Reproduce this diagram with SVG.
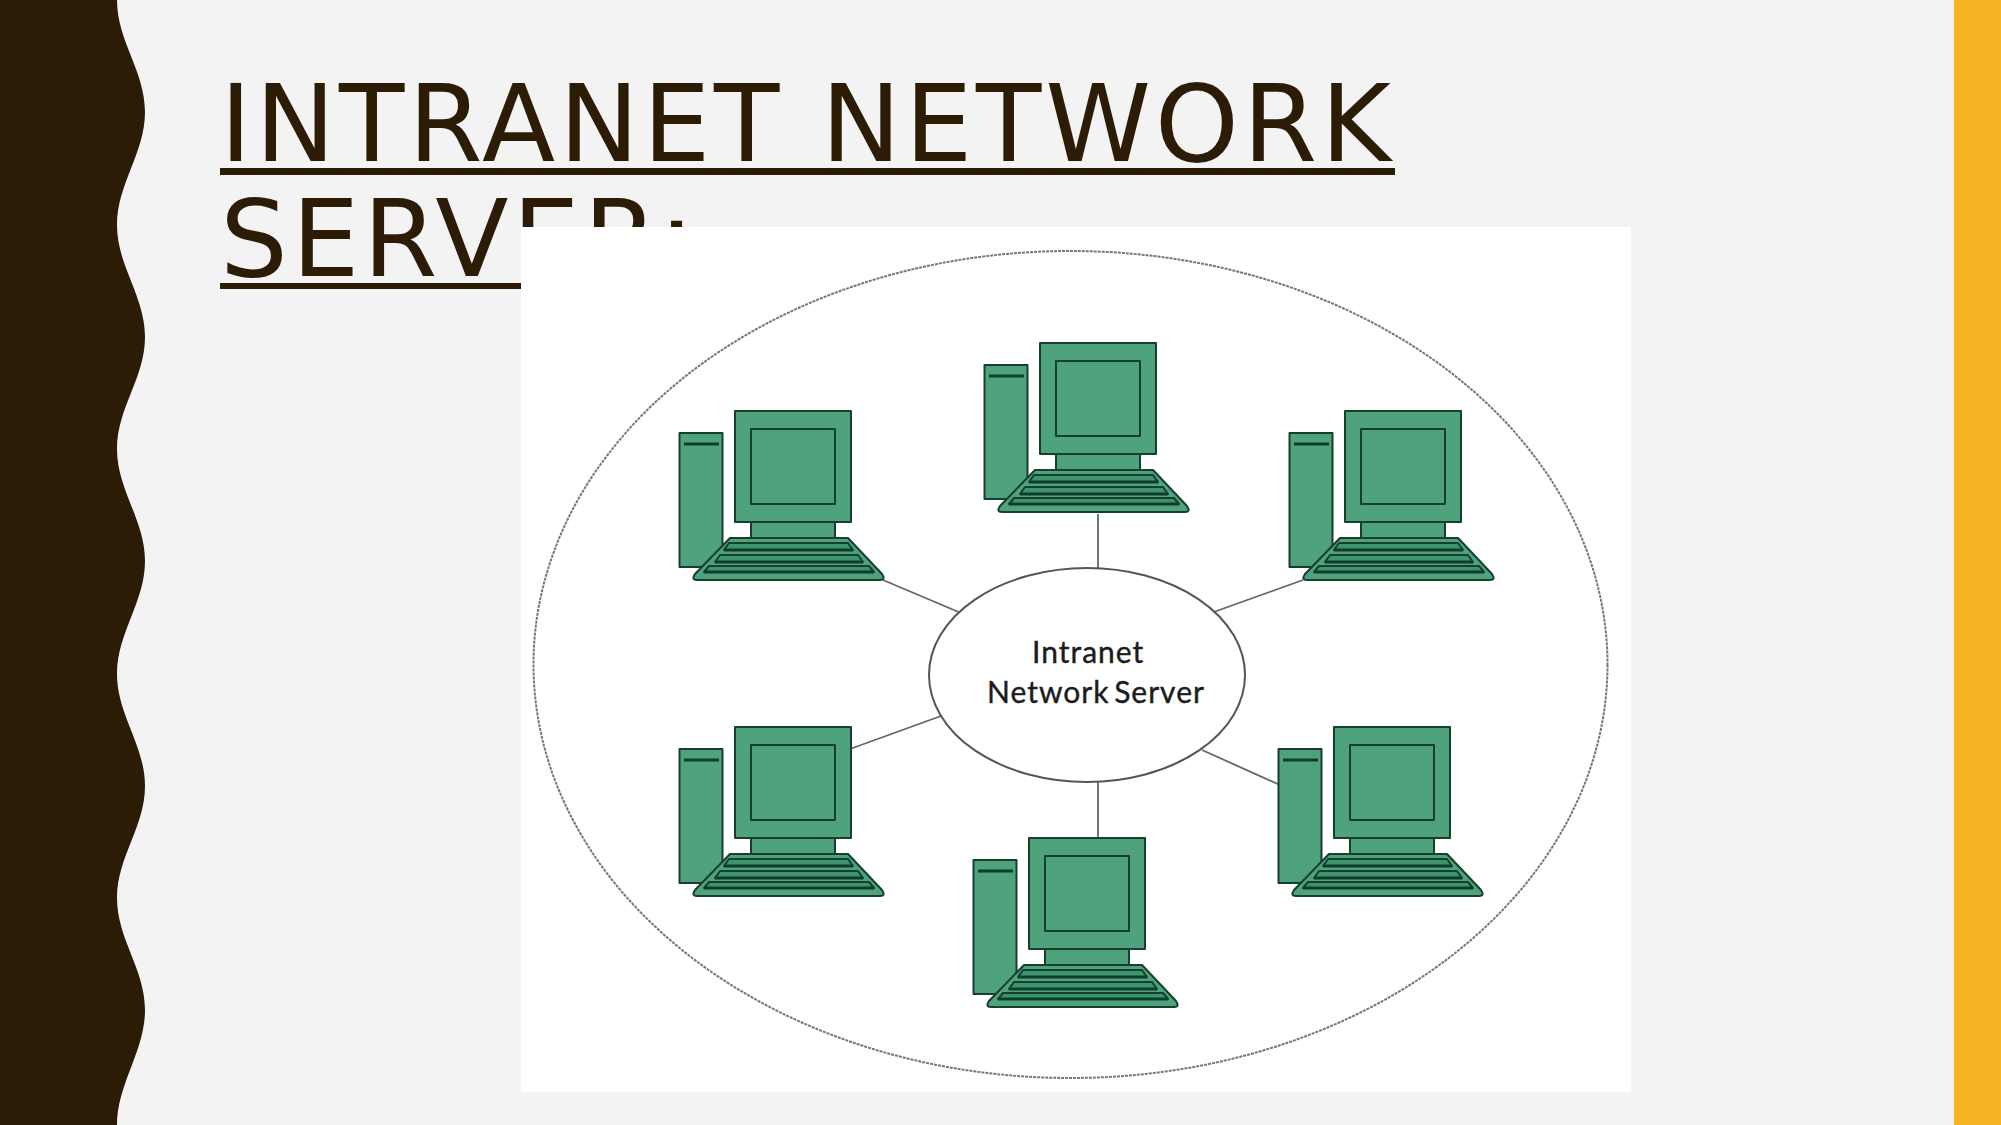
<svg xmlns="http://www.w3.org/2000/svg" width="2001" height="1125" viewBox="0 0 2001 1125">
  <defs>
    <style>
      .title { font-family: "DejaVu Sans", sans-serif; font-size: 107px; letter-spacing: 3.75px; fill: #2c1c05; }
      .rule { fill: #2c1c05; }
      .label { font-family: Lato, "Open Sans", "Liberation Sans", sans-serif; font-size: 30px; letter-spacing: 1px; fill: #1c1c1c; stroke: #1c1c1c; stroke-width: 0.4; }
      .line { stroke: #666; stroke-width: 1.8; fill: none; }
      .pc { fill: #4ea27c; stroke: #173f2e; stroke-width: 2; stroke-linejoin: round; }
      .slot { fill: #3f9470; stroke: #173f2e; stroke-width: 2; stroke-linejoin: round; }
      .shade { stroke: #0f3d2a; stroke-width: 3; fill: none; }
    </style>
    <g id="computer">
      <rect class="pc" x="-55.500" y="22" width="43" height="134"/>
      <line class="shade" x1="-51" y1="33" x2="-16" y2="33" stroke-width="4"/>
      <rect class="pc" x="16" y="111" width="84" height="17"/>
      <rect class="pc" x="0" y="0" width="116" height="111"/>
      <rect class="pc" x="16" y="18" width="84" height="75"/>
      <path class="pc" d="M-5 127H113L147 163Q151 169 145 169H-38Q-44 169 -40 163Z"/>
      <path class="slot" d="M-6 132H113L118 139H-11Z"/>
      <path class="slot" d="M-15 144H123L128 151H-20Z"/>
      <path class="slot" d="M-26 155H134L139 161H-31Z"/>
      <path class="shade" d="M-11 139H118M-20 151H128M-31 161H139"/>
    </g>
  </defs>

  <rect width="2001" height="1125" fill="#f3f3f3"/>
  <rect x="1954" width="47" height="1125" fill="#f8b323"/>
  <path fill="#2c1c05" d="M0 0H117C117 41 145 71 145 112C145 153 117 184 117 225C117 266 145 296 145 337C145 378 117 408 117 449C117 490 145 520 145 561C145 602 117 633 117 674C117 715 145 745 145 786C145 827 117 857 117 898C117 939 145 969 145 1010C145 1051 117 1084 117 1125H0Z"/>

  <text class="title" x="220" y="161">INTRANET NETWORK</text>
  <rect class="rule" x="220" y="168" width="1175" height="7"/>
  <text class="title" x="220" y="276">SERVER:</text>
  <rect class="rule" x="220" y="283" width="301" height="6"/>

  <rect x="521" y="227" width="1110" height="865" fill="#fff"/>
  <ellipse cx="1070.500" cy="664.500" rx="537" ry="413.500" fill="none" stroke="#777" stroke-width="2" stroke-dasharray="3 1"/>

  <g id="connectors">
    <line class="line" x1="1098" y1="514" x2="1098" y2="569"/>
    <line class="line" x1="1098" y1="782" x2="1098" y2="838"/>
    <line class="line" x1="883" y1="580" x2="961" y2="613"/>
    <line class="line" x1="1211" y1="613" x2="1303" y2="580"/>
    <line class="line" x1="850" y1="749" x2="941" y2="716"/>
    <line class="line" x1="1202" y1="750" x2="1280" y2="785"/>
  </g>

  <g id="server">
    <ellipse cx="1087" cy="675" rx="158" ry="107" fill="#fff" stroke="#555" stroke-width="2"/>
    <text class="label" x="1032" y="663">Intranet</text>
    <text class="label" x="987" y="703" word-spacing="-4">Network Server</text>
  </g>

  <g id="computer-top-left"><use href="#computer" x="735" y="411"/></g>
  <g id="computer-top-center"><use href="#computer" x="1040" y="343"/></g>
  <g id="computer-top-right"><use href="#computer" x="1345" y="411"/></g>
  <g id="computer-bottom-left"><use href="#computer" x="735" y="727"/></g>
  <g id="computer-bottom-right"><use href="#computer" x="1334" y="727"/></g>
  <g id="computer-bottom-center"><use href="#computer" x="1029" y="838"/></g>
</svg>
